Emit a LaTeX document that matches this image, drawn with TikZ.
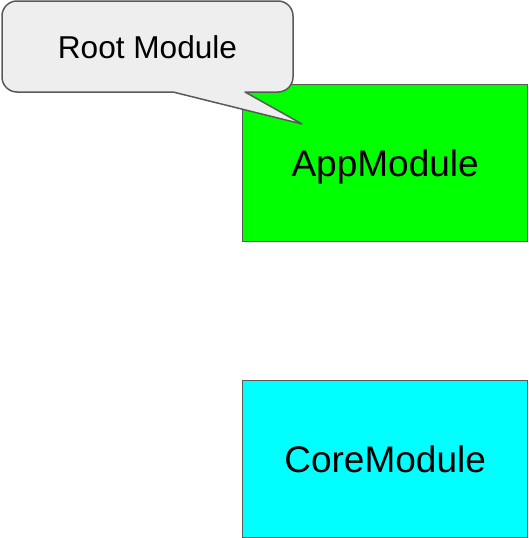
\documentclass[tikz,border=0pt]{standalone}
\usepackage{fontspec}
\setmainfont{Liberation Sans}
\definecolor{edgegray}{HTML}{595959}
\definecolor{calloutfill}{HTML}{EEEEEE}
\definecolor{appgreen}{HTML}{00FF00}
\definecolor{corecyan}{HTML}{00FFFF}
\tikzset{
  modbox/.style={draw=edgegray, line width=1.3pt, minimum width=285pt, minimum height=157pt, anchor=north west, inner sep=0pt, text depth=0pt, font=\fontsize{37}{44}\selectfont},
  calloutshape/.style={draw=edgegray, fill=calloutfill, line width=1.5pt, line join=round},
  callouttext/.style={font=\fontsize{31.6}{38}\selectfont, inner sep=0pt}
}
\begin{document}
\begin{tikzpicture}[x=1pt,y=1pt]
\useasboundingbox (0,0) rectangle (528,-538);
\node[modbox, fill=appgreen] (app) at (242,-84) {AppModule};
\node[modbox, fill=corecyan] (core) at (242,-380) {CoreModule};
\coordinate (tip) at (302,-124);
\draw[calloutshape] (17,-1) -- (278,-1) arc[start angle=90, end angle=0, radius=15]
  -- (293,-77) arc[start angle=0, end angle=-90, radius=15]
  -- (245,-92) -- (tip) -- (173,-92)
  -- (17,-92) arc[start angle=270, end angle=180, radius=15]
  -- (2,-16) arc[start angle=180, end angle=90, radius=15] -- cycle;
\node[callouttext] (root) at (147.5,-47) {Root Module};
\end{tikzpicture}
\end{document}
